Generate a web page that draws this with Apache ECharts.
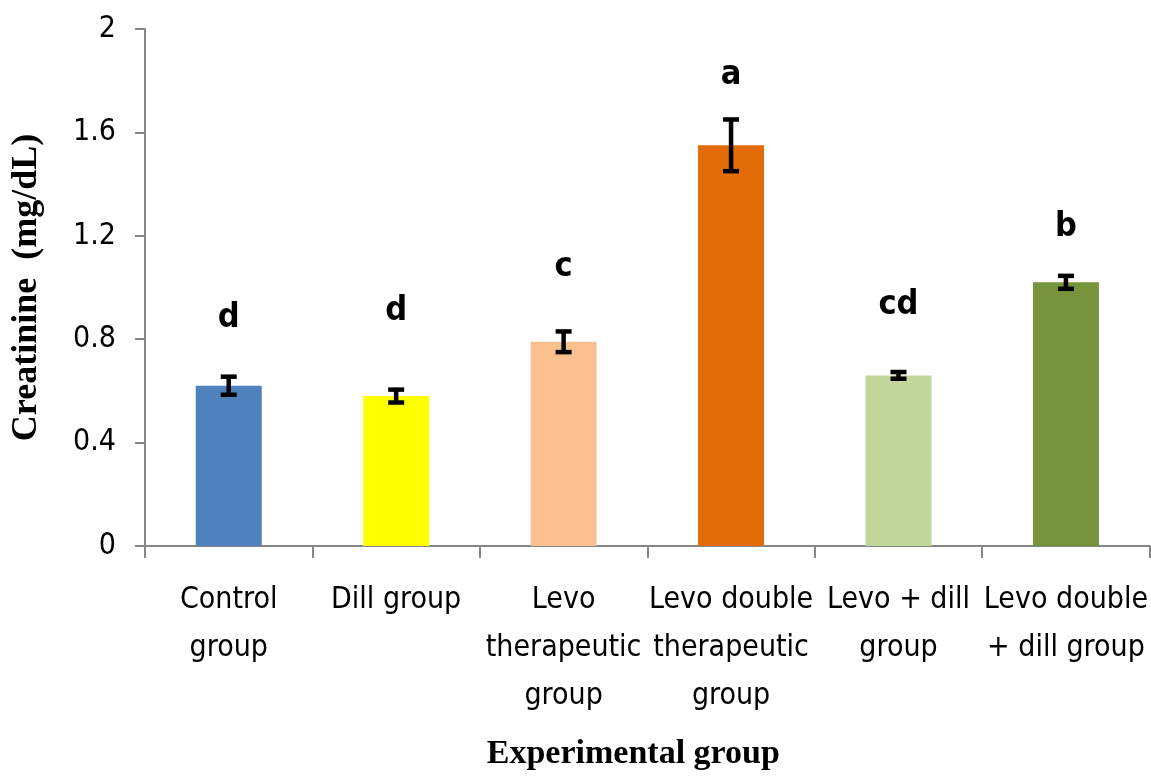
<!DOCTYPE html>
<html><head><meta charset="utf-8">
<script src="https://cdn.jsdelivr.net/npm/echarts@6/dist/echarts.min.js"></script>
<style>html,body{margin:0;padding:0;background:#fff}#c{width:1151px;height:776px}</style>
</head><body><div id="c"></div>
<script>
const categories = ["Control\ngroup", "Dill group", "Levo\ntherapeutic\ngroup", "Levo double\ntherapeutic\ngroup", "Levo + dill\ngroup", "Levo double\n+ dill group"];
const means = [0.62, 0.58, 0.79, 1.55, 0.66, 1.02];
const errors = [0.035, 0.025, 0.04, 0.10, 0.013, 0.025];
const letters = ["d", "d", "c", "a", "cd", "b"];
const letterY = [0.88, 0.91, 1.08, 1.82, 0.93, 1.235];
const colors = ["#4f81bd", "#ffff00", "#fac090", "#e36c09", "#c3d69b", "#77933c"];
const yTicks = [0, 0.4, 0.8, 1.2, 1.6, 2];

const narrow = "'DejaVu Sans Condensed','Liberation Sans Narrow',sans-serif";
const chart = echarts.init(document.getElementById('c'));
chart.setOption({
  animation: false,
  grid: {left: 145, right: 1, top: 29, bottom: 226, containLabel: false},
  xAxis: {
    type: 'category', data: categories,
    axisLine: {lineStyle: {color: '#868686', width: 2}},
    axisTick: {show: true, length: 12, lineStyle: {color: '#868686', width: 2}},
    axisLabel: {color: '#000', fontFamily: narrow, fontSize: 30, lineHeight: 48, margin: 30, interval: 0},
    name: 'Experimental group', nameLocation: 'middle', nameGap: 191,
    nameTextStyle: {fontFamily: "'Liberation Serif',serif", fontWeight: 'bold', fontSize: 34, color: '#000', padding: [0, 28, 0, 0]}
  },
  yAxis: {
    type: 'value', min: 0, max: 2, interval: 0.4,
    splitLine: {show: false},
    axisLine: {show: true, lineStyle: {color: '#868686', width: 2}},
    axisTick: {show: true, length: 10, lineStyle: {color: '#868686', width: 2}},
    axisLabel: {color: '#000', fontFamily: narrow, fontSize: 30, margin: 29,
      formatter: v => { const t = yTicks.find(x => Math.abs(x - v) < 1e-9); return t === undefined ? '' : String(t); }},
    name: 'Creatinine  (mg/dL)', nameLocation: 'middle', nameGap: 100,
    nameTextStyle: {fontFamily: "'Liberation Serif',serif", fontWeight: 'bold', fontSize: 36, color: '#000'}
  },
  series: [
    {type: 'bar', barWidth: 66, data: means.map((v, i) => ({value: v, itemStyle: {color: colors[i]}}))},
    {type: 'custom', data: means.map((v, i) => [i, v, errors[i]]), z: 5,
      renderItem: (params, api) => {
        const x = api.value(0), m = api.value(1), e = api.value(2);
        const hi = api.coord([x, m + e]), lo = api.coord([x, m - e]);
        const w = 8;
        const st = {stroke: '#000', lineWidth: 4.5};
        return {type: 'group', children: [
          {type: 'line', shape: {x1: hi[0], y1: hi[1], x2: lo[0], y2: lo[1]}, style: st},
          {type: 'line', shape: {x1: hi[0] - w, y1: hi[1], x2: hi[0] + w, y2: hi[1]}, style: st},
          {type: 'line', shape: {x1: lo[0] - w, y1: lo[1], x2: lo[0] + w, y2: lo[1]}, style: st}
        ]};
      }},
    {type: 'custom', data: letterY.map((v, i) => [i, v]), z: 6,
      renderItem: (params, api) => {
        const p = api.coord([api.value(0), api.value(1)]);
        return {type: 'text', x: p[0], y: p[1], style: {text: letters[params.dataIndex], fill: '#000',
          font: "bold 34px 'DejaVu Sans Condensed', sans-serif", align: 'center', verticalAlign: 'middle'}};
      }}
  ]
});
</script></body></html>
